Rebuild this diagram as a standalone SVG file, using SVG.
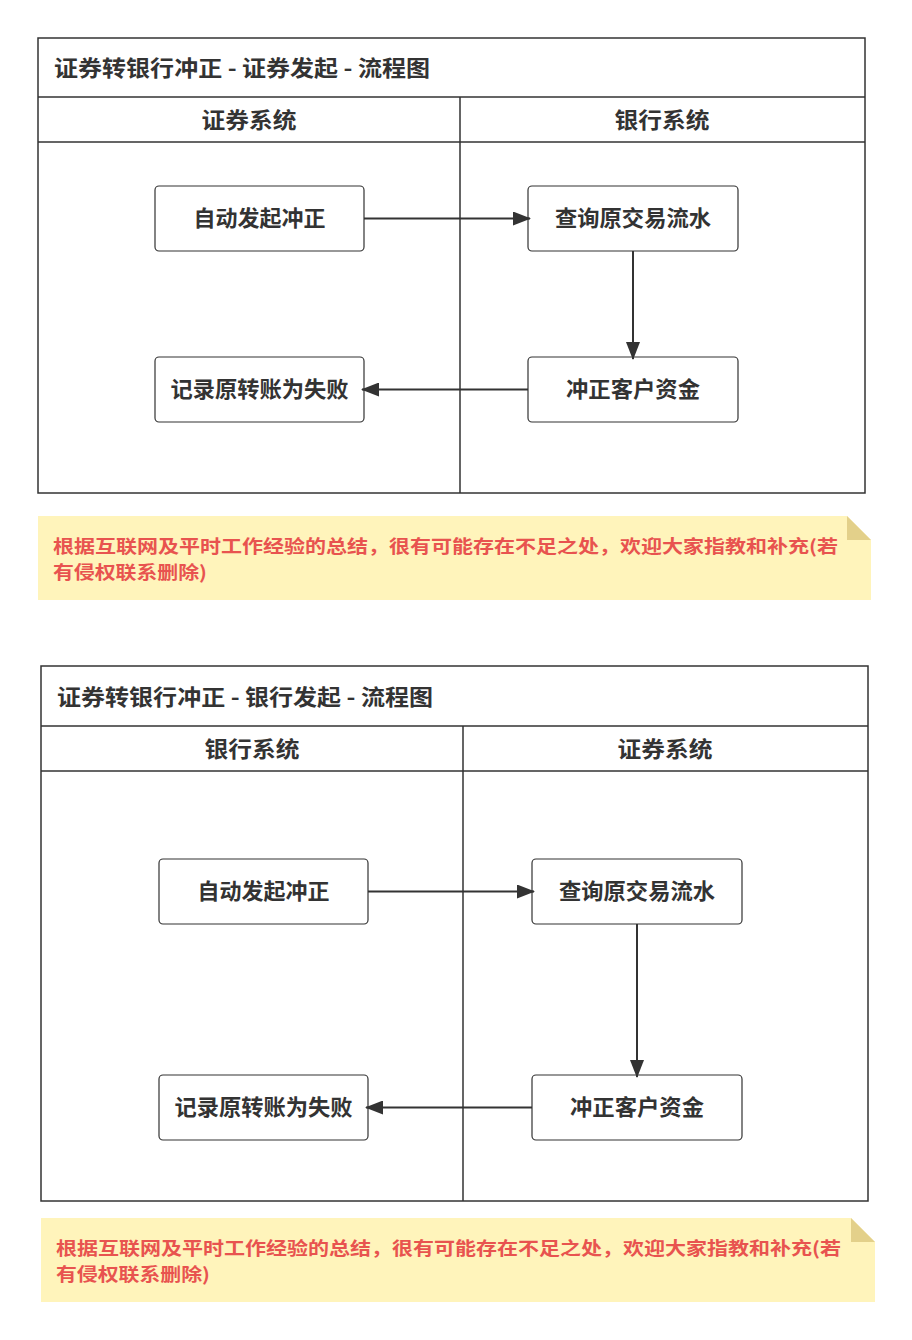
<svg xmlns="http://www.w3.org/2000/svg" width="912" height="1340" viewBox="0 0 912 1340">
<style>
text{font-family:"Noto Sans CJK SC","Liberation Sans",sans-serif;fill:#333;}
.f{fill:#fff;stroke:#333;stroke-width:1.5;}
.l{stroke:#333;stroke-width:1.5;fill:none;}
.n{fill:#fff;stroke:#333;stroke-width:1.2;}
.t{font-size:22px;font-weight:bold;text-anchor:middle;}
.h{font-size:22px;font-weight:bold;}
.c{stroke:#333;stroke-width:2;fill:none;marker-end:url(#a);}
.note{fill:#fff4bb;}
.fold{fill:#e3d08a;}
.nt{font-size:18px;font-weight:bold;fill:#e8534f;}
</style>
<defs><marker id="a" markerWidth="18" markerHeight="14" refX="17" refY="7" orient="auto" markerUnits="userSpaceOnUse"><path d="M0,0 L18,7 L0,14 Z" fill="#333"/></marker></defs>
<rect width="912" height="1340" fill="#fff"/>
<g id="d1">
<rect class="f" x="38" y="38" width="827" height="455"/>
<path class="l" d="M38 97H865M38 142H865M460 97V493"/>
<text class="h" x="54" y="76" textLength="376" lengthAdjust="spacingAndGlyphs">证券转银行冲正 - 证券发起 - 流程图</text>
<text class="t" x="249" y="128" textLength="95" lengthAdjust="spacingAndGlyphs">证券系统</text>
<text class="t" x="662" y="128" textLength="95" lengthAdjust="spacingAndGlyphs">银行系统</text>
</g>
<g id="n1"><rect class="n" x="155" y="186" width="209" height="65" rx="4"/><text class="t" x="259.5" y="226" textLength="132" lengthAdjust="spacingAndGlyphs">自动发起冲正</text></g>
<g id="n2"><rect class="n" x="528" y="186" width="210" height="65" rx="4"/><text class="t" x="633" y="226" textLength="156" lengthAdjust="spacingAndGlyphs">查询原交易流水</text></g>
<g id="n3"><rect class="n" x="528" y="357" width="210" height="65" rx="4"/><text class="t" x="633" y="397" textLength="134" lengthAdjust="spacingAndGlyphs">冲正客户资金</text></g>
<g id="n4"><rect class="n" x="155" y="357" width="209" height="65" rx="4"/><text class="t" x="259.5" y="397" textLength="178" lengthAdjust="spacingAndGlyphs">记录原转账为失败</text></g>
<g id="note1"><path class="note" d="M38 516H847L871 540V600H38Z"/><path class="fold" d="M847 516L871 540H847Z"/>
<text class="nt" x="53" y="553" textLength="785" lengthAdjust="spacingAndGlyphs">根据互联网及平时工作经验的总结，很有可能存在不足之处，欢迎大家指教和补充(若</text>
<text class="nt" x="53" y="579" textLength="154" lengthAdjust="spacingAndGlyphs">有侵权联系删除)</text></g>
<g id="d2">
<rect class="f" x="41" y="666" width="827" height="535"/>
<path class="l" d="M41 726H868M41 771H868M463 726V1201"/>
<text class="h" x="57" y="705" textLength="376" lengthAdjust="spacingAndGlyphs">证券转银行冲正 - 银行发起 - 流程图</text>
<text class="t" x="252" y="757" textLength="95" lengthAdjust="spacingAndGlyphs">银行系统</text>
<text class="t" x="665" y="757" textLength="95" lengthAdjust="spacingAndGlyphs">证券系统</text>
</g>
<g id="m1"><rect class="n" x="159" y="859" width="209" height="65" rx="4"/><text class="t" x="263.5" y="899" textLength="132" lengthAdjust="spacingAndGlyphs">自动发起冲正</text></g>
<g id="m2"><rect class="n" x="532" y="859" width="210" height="65" rx="4"/><text class="t" x="637" y="899" textLength="156" lengthAdjust="spacingAndGlyphs">查询原交易流水</text></g>
<g id="m3"><rect class="n" x="532" y="1075" width="210" height="65" rx="4"/><text class="t" x="637" y="1115" textLength="134" lengthAdjust="spacingAndGlyphs">冲正客户资金</text></g>
<g id="m4"><rect class="n" x="159" y="1075" width="209" height="65" rx="4"/><text class="t" x="263.5" y="1115" textLength="178" lengthAdjust="spacingAndGlyphs">记录原转账为失败</text></g>
<g id="note2"><path class="note" d="M41 1218H851L875 1242V1302H41Z"/><path class="fold" d="M851 1218L875 1242H851Z"/>
<text class="nt" x="56" y="1255" textLength="785" lengthAdjust="spacingAndGlyphs">根据互联网及平时工作经验的总结，很有可能存在不足之处，欢迎大家指教和补充(若</text>
<text class="nt" x="56" y="1281" textLength="154" lengthAdjust="spacingAndGlyphs">有侵权联系删除)</text></g>
<g id="connectors">
<path class="c" d="M364 218.5H530"/>
<path class="c" d="M633 251V359"/>
<path class="c" d="M528 389.5H362"/>
<path class="c" d="M368 891.5H534"/>
<path class="c" d="M637 924V1077"/>
<path class="c" d="M532 1107.5H366"/>
</g>
</svg>
